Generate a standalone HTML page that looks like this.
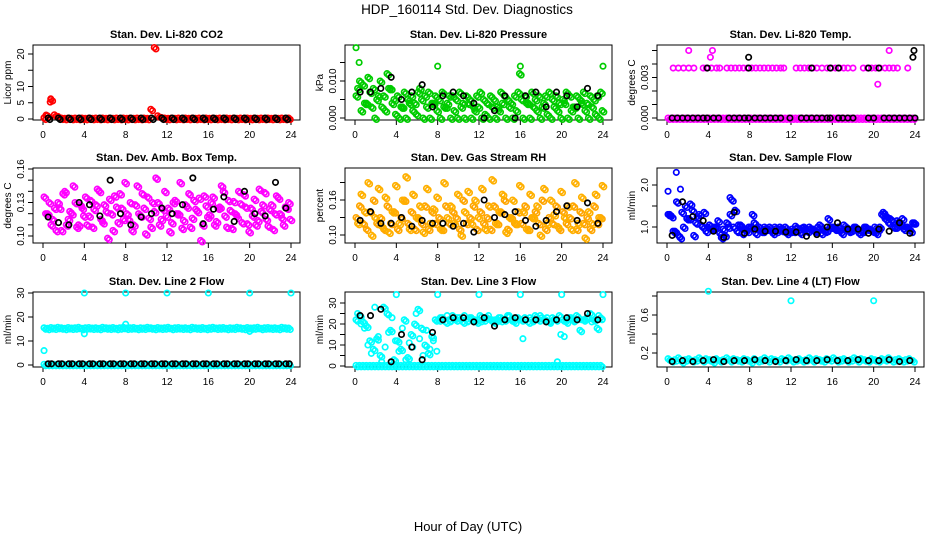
<!DOCTYPE html>
<html><head><meta charset="utf-8"><style>
html,body{margin:0;padding:0;background:#fff;}
svg{display:block;font-family:"Liberation Sans",sans-serif;}
</style></head><body>
<svg id="chart" width="936" height="540" viewBox="0 0 936 540" xmlns="http://www.w3.org/2000/svg">
<text x="467" y="14" font-size="13.5" text-anchor="middle">HDP_160114  Std. Dev. Diagnostics</text>
<text x="468" y="531" font-size="13" text-anchor="middle">Hour of Day (UTC)</text>
</svg>
<script>
const xTicks=[0,4,8,12,16,20,24];
// CO2
const co2Red=[0.3,1.0,6.0,1.3,0.8,0.3,0.2,0.3,0.2,0.3,0.2,0.3,0.2,0.3,0.2,0.3,0.2,0.3,0.2,0.3,0.2,0.3,0.2,0.3,0.2,0.3,0.2,0.3,0.2,0.3,0.2,3.0,22.0,1.0,0.5,0.3,0.2,0.3,0.2,0.3,0.2,0.3,0.2,0.3,0.2,0.3,0.2,0.3,0.2,0.3,0.2,0.3,0.2,0.3,0.2,0.3,0.2,0.3,0.2,0.3,0.2,0.3,0.2,0.3,0.2,0.3,0.2,0.3,0.2,0.3,0.2,0.3];
const co2ExtraH=[0.7,0.75,0.3,0.1];
const co2ExtraV=[5.2,6.2,1.2,0.4];
const co2Black=[0.3,0.3,0.3,0.3,0.3,0.3,0.3,0.3,0.3,0.3,0.3,0.3,0.3,0.3,0.3,0.3,0.3,0.3,0.3,0.3,0.3,0.3,0.3,0.3];
// Pressure
const presA=[0.006,0.010,0.009,0.004,0.007,0.008,0.005,0.010,0.006,0.012,0.008,0.005,0.006,0.003,0.007,0.005,0.006,0.004,0.007,0.005,0.006,0.007,0.004,0.006,0.005,0.007,0.003,0.006,0.006,0.005,0.007,0.004,0.006,0.005,0.003,0.006,0.007,0.005,0.004,0.006,0.005,0.003,0.007,0.006,0.005,0.004,0.006,0.007,0.005,0.006,0.004,0.007,0.005,0.006,0.003,0.006,0.007,0.005,0.006,0.004,0.005,0.007,0.006,0.003,0.006,0.005,0.007,0.004,0.006,0.005,0.006,0.007];
const presB=[0.008,0.002,0.004,0.011,0.003,0.0,0.006,0.003,0.002,0.008,0.004,0.001,0.0,0.003,0.0,0.004,0.002,0.001,0.008,0.0,0.003,0.0,0.004,0.002,0.0,0.003,0.004,0.0,0.002,0.0,0.003,0.0,0.004,0.0,0.002,0.003,0.0,0.001,0.0,0.003,0.0,0.002,0.004,0.0,0.003,0.0,0.002,0.012,0.0,0.004,0.0,0.003,0.002,0.0,0.004,0.001,0.0,0.003,0.002,0.0,0.004,0.0,0.002,0.003,0.0,0.004,0.002,0.0,0.003,0.001,0.0,0.002];
const presOutH=[0.1,0.4,8.0,16.0,24.0];
const presOutV=[0.019,0.015,0.014,0.014,0.014];
const presBlack=[0.007,0.007,0.008,0.011,0.005,0.007,0.009,0.003,0.006,0.007,0.006,0.004,0.0,0.002,0.006,0.0,0.006,0.007,0.003,0.007,0.006,0.003,0.008,0.006];
// Li-820 Temp
const tempBase=[0,0,0,0,0,0,0,0,0,0,0,0,0,0,0,0,0,0,0,0,0,0,0,0,0,0,0,0,0,0,0,0,0,0,0,0,0,0,0,0,0,0,0,0,0,0,0,0,0,0,0,0,0,0,0,0,0,0,0,0,0,0,0,0,0,0,0,0,0,0,0,0];
const tempHiH=[0.6,1.1,1.6,2.1,2.6,3.5,3.8,4.3,4.8,5.1,5.8,6.2,6.6,7.0,7.4,7.8,8.2,8.6,9.0,9.4,9.8,10.2,10.6,11.0,11.3,12.5,12.9,13.3,13.7,14.1,14.5,15.0,15.5,15.9,16.3,16.7,17.1,17.5,18.0,19.0,19.4,19.8,20.2,20.6,21.1,21.5,21.9,22.3,23.3,2.1,4.2,4.4,21.5,20.4];
const tempHiV=[0.0037,0.0037,0.0037,0.0037,0.0037,0.0037,0.0037,0.0037,0.0037,0.0037,0.0037,0.0037,0.0037,0.0037,0.0037,0.0037,0.0037,0.0037,0.0037,0.0037,0.0037,0.0037,0.0037,0.0037,0.0037,0.0037,0.0037,0.0037,0.0037,0.0037,0.0037,0.0037,0.0037,0.0037,0.0037,0.0037,0.0037,0.0037,0.0037,0.0037,0.0037,0.0037,0.0037,0.0037,0.0037,0.0037,0.0037,0.0037,0.0037,0.005,0.0045,0.005,0.005,0.0025];
const tempBlackH=[0.5,1,1.5,2,2.5,3,3.5,3.9,4.5,5,6,6.5,7,7.5,7.9,8.5,9,9.5,10,10.5,11,11.9,13,13.5,14,14.5,15,15.5,15.8,16.6,17,17.5,18,19.5,20,21,21.5,22,22.5,23,23.5,24,3.9,7.9,14,15.8,16.6,19.5,20.5,7.9,23.8,23.9];
const tempBlackV=[0,0,0,0,0,0,0,0,0,0,0,0,0,0,0,0,0,0,0,0,0,0,0,0,0,0,0,0,0,0,0,0,0,0,0,0,0,0,0,0,0,0,0.0037,0.0037,0.0037,0.0037,0.0037,0.0037,0.0037,0.0045,0.0045,0.005];
// Amb box
const ambA=[0.135,0.12,0.11,0.125,0.13,0.105,0.14,0.115,0.12,0.13,0.11,0.125,0.135,0.118,0.108,0.128,0.14,0.112,0.122,0.133,0.105,0.126,0.138,0.115,0.12,0.13,0.11,0.145,0.118,0.125,0.135,0.108,0.122,0.13,0.115,0.14,0.125,0.112,0.132,0.12,0.107,0.128,0.138,0.116,0.124,0.134,0.11,0.127,0.119,0.135,0.113,0.126,0.14,0.108,0.123,0.131,0.117,0.129,0.137,0.111,0.125,0.133,0.114,0.122,0.139,0.109,0.128,0.12,0.134,0.116,0.126,0.13];
const ambB=[0.12,0.13,0.115,0.105,0.125,0.138,0.11,0.122,0.145,0.108,0.128,0.118,0.11,0.132,0.124,0.142,0.115,0.128,0.098,0.12,0.136,0.112,0.125,0.148,0.115,0.105,0.128,0.12,0.138,0.102,0.116,0.13,0.152,0.11,0.124,0.118,0.104,0.13,0.12,0.148,0.114,0.126,0.108,0.132,0.122,0.096,0.136,0.117,0.13,0.11,0.125,0.145,0.118,0.132,0.107,0.12,0.14,0.112,0.126,0.104,0.118,0.11,0.142,0.128,0.115,0.124,0.106,0.136,0.12,0.11,0.125,0.115];
const ambBlack=[0.117,0.112,0.11,0.13,0.128,0.118,0.15,0.12,0.11,0.117,0.12,0.125,0.12,0.128,0.152,0.111,0.124,0.135,0.113,0.14,0.12,0.118,0.148,0.125];
// RH
const rhA=[0.13,0.15,0.12,0.11,0.14,0.16,0.12,0.13,0.11,0.15,0.12,0.14,0.11,0.13,0.16,0.12,0.14,0.11,0.13,0.12,0.15,0.11,0.14,0.12,0.13,0.11,0.15,0.12,0.14,0.13,0.11,0.16,0.12,0.13,0.15,0.11,0.14,0.12,0.13,0.11,0.15,0.12,0.14,0.16,0.11,0.13,0.12,0.14,0.12,0.15,0.11,0.13,0.14,0.12,0.16,0.11,0.13,0.12,0.15,0.11,0.14,0.12,0.13,0.15,0.11,0.14,0.12,0.13,0.11,0.15,0.12,0.13];
const rhB=[0.12,0.17,0.14,0.19,0.1,0.13,0.18,0.115,0.165,0.105,0.14,0.185,0.12,0.16,0.2,0.11,0.17,0.13,0.15,0.105,0.18,0.12,0.145,0.165,0.11,0.19,0.13,0.15,0.12,0.17,0.1,0.14,0.175,0.12,0.16,0.13,0.18,0.11,0.15,0.195,0.12,0.14,0.17,0.105,0.13,0.16,0.12,0.185,0.14,0.11,0.17,0.13,0.15,0.1,0.18,0.12,0.16,0.135,0.115,0.175,0.13,0.15,0.11,0.19,0.12,0.165,0.095,0.14,0.12,0.17,0.13,0.185];
const rhBlack=[0.125,0.14,0.12,0.12,0.13,0.115,0.125,0.12,0.12,0.115,0.12,0.105,0.16,0.13,0.135,0.14,0.125,0.115,0.125,0.14,0.15,0.125,0.155,0.12];
// Sample flow
const sfA=[1.3,1.25,0.9,0.8,1.35,1.5,1.2,1.4,1.1,1.3,1.0,0.9,1.05,0.95,1.0,0.85,0.95,1.1,1.3,1.0,0.9,1.05,0.95,0.9,1.0,1.1,0.95,0.9,1.0,0.95,0.9,1.0,0.95,0.92,1.0,0.9,0.95,1.02,0.9,0.98,0.92,1.0,0.95,0.9,1.05,0.95,0.92,1.0,1.0,0.95,0.9,1.05,0.98,0.92,1.0,0.95,0.9,1.0,0.95,0.92,1.0,0.95,1.3,1.2,1.1,1.15,1.0,1.05,1.2,1.0,0.95,1.1];
const sfB=[1.3,0.9,1.6,0.75,1.0,1.2,1.55,0.8,1.25,1.05,1.35,1.0,0.95,1.0,1.15,0.75,0.8,1.0,1.65,1.4,1.05,0.85,0.95,1.0,1.3,0.85,1.0,0.9,0.95,1.0,0.85,0.9,1.0,0.95,0.85,0.9,0.9,0.95,0.85,1.0,0.9,0.95,0.9,1.0,0.85,0.9,1.2,1.0,0.95,1.0,0.85,0.95,0.9,0.95,1.0,0.85,0.9,1.0,0.95,0.9,0.85,1.0,1.35,1.25,1.2,1.0,1.15,1.1,0.95,1.0,0.9,1.1];
const sfOutH=[0.1,0.9,1.3,6.1];
const sfOutV=[1.85,2.3,1.9,1.7];
const sfBlack=[0.8,1.6,1.25,1.15,0.9,0.75,1.35,0.85,0.95,0.9,0.9,0.88,0.88,0.78,0.82,1.0,1.1,0.95,0.95,0.85,0.95,0.9,1.1,0.85];
// Line 2
const l2A=[15.5,15.3,15.6,15.4,15.7,15.5,15.3,15.6,15.4,15.5,15.7,15.3,15.5,15.6,15.4,15.5,15.3,15.7,15.5,15.4,15.6,15.3,15.5,15.7,15.4,15.5,15.6,15.3,15.5,15.4,15.7,15.5,15.3,15.6,15.4,15.5,15.7,15.3,15.5,15.6,15.4,15.5,15.3,15.7,15.5,15.4,15.6,15.3,15.5,15.7,15.4,15.5,15.6,15.3,15.5,15.4,15.7,15.5,15.3,15.6,15.4,15.5,15.7,15.3,15.5,15.6,15.4,15.5,15.3,15.7,15.5,15.4];
const l2OutH=[4,8,12,16,20,24,4,0.1,20,8];
const l2OutV=[30,30,30,30,30,30,13,6,14,17];
const l2Black=[0.5,0.5,0.5,0.5,0.5,0.5,0.5,0.5,0.5,0.5,0.5,0.5,0.5,0.5,0.5,0.5,0.5,0.5,0.5,0.5,0.5,0.5,0.5,0.5];
// Line 3
const l3A=[22,24,21,19,12,8,13,5,28,25,17,3,12,8,22,4,15,20,27,18,10,6,14,22,22,23,21,22,24,22,23,21,22,23,22,21,24,22,23,22,21,22,23,22,24,22,21,23,22,23,21,22,24,22,23,22,21,23,22,24,22,21,23,22,24,17,22,23,25,22,18,23];
const l3B=[25,20,18,10,6,28,14,2,9,16,23,12,7,18,3,11,9,25,13,5,17,8,12,7,23,22,24,21,22,23,22,24,21,23,22,22,21,23,24,22,22,23,21,22,24,22,23,22,13,22,23,21,22,24,22,23,21,22,2,15,14,22,23,21,22,22,22,23,21,22,24,22];
const l3OutH=[4,8,12,16,20,24];
const l3OutV=[34,34,34,34,34,34];
const l3Black=[24,24,27,2,15,9,3,16,22,23,23,21,23,19,22,23,22,22,21,22,23,22,25,22];
// Line 4
const l4A=[0.14,0.12,0.13,0.15,0.11,0.13,0.14,0.12,0.13,0.15,0.12,0.14,0.13,0.11,0.14,0.12,0.13,0.15,0.12,0.14,0.13,0.12,0.14,0.13,0.11,0.14,0.12,0.13,0.15,0.12,0.14,0.13,0.12,0.14,0.13,0.15,0.12,0.13,0.14,0.12,0.13,0.15,0.12,0.14,0.13,0.12,0.14,0.13,0.15,0.12,0.13,0.14,0.12,0.13,0.15,0.12,0.14,0.13,0.12,0.14,0.13,0.12,0.14,0.13,0.15,0.12,0.13,0.14,0.12,0.13,0.14,0.12];
const l4OutH=[4,12,20];
const l4OutV=[0.85,0.75,0.75];
const l4Black=[0.11,0.12,0.11,0.12,0.13,0.11,0.12,0.12,0.13,0.12,0.11,0.12,0.13,0.12,0.12,0.13,0.12,0.12,0.13,0.12,0.12,0.13,0.11,0.12];

const svg=document.getElementById('chart');
const NS='http://www.w3.org/2000/svg';
function mk(tag,attrs,parent){const e=document.createElementNS(NS,tag);for(const k in attrs)e.setAttribute(k,attrs[k]);(parent||svg).appendChild(e);return e;}
const colL=[33,345,657], rowT=[45,168,292], PW=267, PH=75;

function panel(col,row,name,title,ylab,yv1,yp1,yv2,yp2,yTicks,yLabels){
  const L=colL[col],T=rowT[row],B=T+PH;
  const g=mk('g',{});
  
  
  const xs=h=>L+10+h*(248/24);
  const ys=v=>yp1+(v-yv1)*(yp2-yp1)/(yv2-yv1);
  const fr=mk('rect',{x:L,y:T,width:PW,height:PH,fill:'none',stroke:'#000','stroke-width':1},g);
  
  
  const t=mk('text',{x:L+PW/2,y:T-7,'font-size':11,'font-weight':'bold','text-anchor':'middle'},g);t.textContent=title;
  
  
  const xa=mk('g',{},g);
  
  
  mk('line',{x1:xs(0),x2:xs(24),y1:B,y2:B,stroke:'#000'},xa);
  xTicks.forEach(v=>{mk('line',{x1:xs(v),x2:xs(v),y1:B,y2:B+5,stroke:'#000'},xa);
    const tl=mk('text',{x:xs(v),y:B+18,'font-size':10,'text-anchor':'middle'},xa);tl.textContent=v;});
  const ya=mk('g',{},g);
  
  
  mk('line',{x1:L,x2:L,y1:ys(yTicks[0]),y2:ys(yTicks[yTicks.length-1]),stroke:'#000'},ya);
  yTicks.forEach((v,i)=>{mk('line',{x1:L-5,x2:L,y1:ys(v),y2:ys(v),stroke:'#000'},ya);
    if(yLabels[i]!==''){const tl=mk('text',{x:L-9,y:ys(v),'font-size':10,'text-anchor':'middle',transform:`rotate(-90 ${L-9} ${ys(v)})`},ya);tl.textContent=yLabels[i];}});
  const yl=mk('text',{x:L-22,y:T+PH/2,'font-size':10,'text-anchor':'middle',transform:`rotate(-90 ${L-22} ${T+PH/2})`},g);yl.textContent=ylab;
  
  
  return {g,xs,ys};
}
function pts(p,hours,vals,color,nm,dense){
  const s=mk('g',{fill:'none',stroke:color,'stroke-width':1.7},p.g);
  
  
  vals.forEach((v,i)=>{const c=mk('circle',{cx:p.xs(hours[i]),cy:p.ys(v),r:2.7},s);
    
    
    if(dense){const c2=mk('circle',{cx:p.xs(hours[i])+1.7,cy:p.ys(v)+1.5,r:2.7},s);
      
      }});
}
const h72=co2Red.map((_,i)=>i/3+0.1);
const h24=co2Black.map((_,i)=>i+0.5);

let p;
p=panel(0,0,'co2-panel','Stan. Dev. Li-820 CO2','Licor ppm',0,119,20,54,[0,5,10,15,20],['0','5','10','','20']);
pts(p,h72,co2Red,'#ff0000','co2-series',true);pts(p,co2ExtraH,co2ExtraV,'#ff0000','co2-extra');pts(p,h24,co2Black,'#000','co2-black-series',true);
p=panel(1,0,'pressure-panel','Stan. Dev. Li-820 Pressure','kPa',0,118,0.010,81,[0,0.005,0.010,0.015],['0.000','','0.010','']);
pts(p,h72,presA,'#00cc00','pressure-series-a',true);pts(p,h72.map(h=>h+0.15),presB,'#00cc00','pressure-series-b',true);pts(p,presOutH,presOutV,'#00cc00','pressure-outliers');pts(p,h24,presBlack,'#000','pressure-black-series');
p=panel(2,0,'temp-panel','Stan. Dev. Li-820 Temp.','degrees C',0,118,0.003,77.5,[0,0.001,0.002,0.003,0.004,0.005],['0.000','','','0.003','','']);
pts(p,h72,tempBase,'#ff00ff','temp-baseline',true);pts(p,tempHiH,tempHiV,'#ff00ff','temp-series');pts(p,tempBlackH,tempBlackV,'#000','temp-black-series');
p=panel(0,1,'ambient-temp-panel','Stan. Dev. Amb. Box Temp.','degrees C',0.10,236,0.16,169,[0.10,0.11,0.12,0.13,0.14,0.15,0.16],['0.10','','','0.13','','','0.16']);
pts(p,h72,ambA,'#ff00ff','ambient-series-a',true);pts(p,h72.map(h=>h+0.15),ambB,'#ff00ff','ambient-series-b',true);pts(p,h24,ambBlack,'#000','ambient-black-series');
p=panel(1,1,'rh-panel','Stan. Dev. Gas Stream RH','percent',0.10,235,0.16,200,[0.10,0.13,0.16,0.19],['0.10','','0.16','']);
pts(p,h72,rhA,'#ffa500','rh-series-a',true);pts(p,h72.map(h=>h+0.15),rhB,'#ffb000','rh-series-b',true);pts(p,h24,rhBlack,'#000','rh-black-series');
p=panel(2,1,'sample-flow-panel','Stan. Dev. Sample Flow','ml/min',1.0,227,2.0,185,[1.0,1.5,2.0],['1.0','','2.0']);
pts(p,h72,sfA,'#0000ff','sample-series-a',true);pts(p,h72.map(h=>h+0.15),sfB,'#0000ff','sample-series-b',true);pts(p,sfOutH,sfOutV,'#0000ff','sample-outliers');pts(p,h24,sfBlack,'#000','sample-black-series');
p=panel(0,2,'line2-panel','Stan. Dev. Line 2 Flow','ml/min',0,365,30,293,[0,10,20,30],['0','10','20','30']);
pts(p,h72,l2A,'#00ffff','line2-series',true);pts(p,h72,l2A.map(()=>0.3),'#00ffff','line2-baseline',true);pts(p,l2OutH,l2OutV,'#00ffff','line2-outliers');pts(p,h24,l2Black,'#000','line2-black-series');pts(p,h24.map(h=>h+0.33),l2Black,'#000','line2-black-series-b');
p=panel(1,2,'line3-panel','Stan. Dev. Line 3 Flow','ml/min',0,366,30,303,[0,5,10,15,20,25,30],['0','','10','','20','','30']);
pts(p,h72,l3A.map(()=>0.3),'#00ffff','line3-baseline',true);pts(p,h72,l3A,'#00ffff','line3-series-a',true);pts(p,h72.map(h=>h+0.15),l3B,'#00ffff','line3-series-b');pts(p,l3OutH,l3OutV,'#00ffff','line3-outliers');pts(p,h24,l3Black,'#000','line3-black-series');
p=panel(2,2,'line4-panel','Stan. Dev. Line 4 (LT) Flow','ml/min',0.2,353,0.6,315,[0.2,0.4,0.6,0.8],['0.2','','0.6','']);
pts(p,h72,l4A,'#00ffff','line4-series',true);pts(p,l4OutH,l4OutV,'#00ffff','line4-outliers');pts(p,h24,l4Black,'#000','line4-black-series');
</script>
</body></html>
